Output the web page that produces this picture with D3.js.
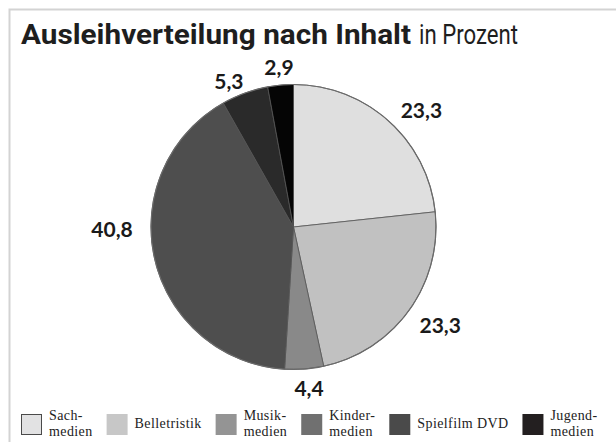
<!DOCTYPE html>
<html>
<head>
<meta charset="utf-8">
<script src="https://cdn.jsdelivr.net/npm/d3@7"></script>
<style>
  html, body { margin: 0; padding: 0; background: #fff; }
</style>
</head>
<body>
<div id="chart"></div>
<script>
// Daten
const categories = ["Sachmedien", "Belletristik", "Musikmedien", "Kindermedien", "Spielfilm DVD", "Jugendmedien"];
const values = [23.3, 23.3, 4.4, 40.8, 5.3, 2.9];
const legendLines = [["Sach-", "medien"], ["Belletristik"], ["Musik-", "medien"], ["Kinder-", "medien"], ["Spielfilm DVD"], ["Jugend-", "medien"]];

const pieColors = ["#dfdfdf", "#c1c1c1", "#898989", "#4e4e4e", "#2a2a2a", "#050505"];
const legendColors = ["#e2e2e3", "#c7c7c7", "#949494", "#707070", "#4a4a4a", "#231f20"];
// kleine Verschiebungen der Wertebeschriftungen (px)
const labelNudge = [[21, 3], [17, 5], [3.5, 2], [-25.5, -33.5], [-10, 5], [0, 0]];

const width = 616, height = 442;
const cx = 293.5, cy = 227, radius = 142.5;

const svg = d3.select("#chart").append("svg")
    .attr("width", width)
    .attr("height", height);

// Rahmen oben und links
svg.append("path")
    .attr("d", `M9.5,${height} L9.5,9.5 L${width},9.5`)
    .attr("fill", "none")
    .attr("stroke", "#d3d3d3")
    .attr("stroke-width", 2);

// Titel
svg.append("text")
    .attr("x", 21)
    .attr("y", 44)
    .attr("font-family", "Roboto, sans-serif")
    .attr("font-weight", 700)
    .attr("font-size", 27)
    .attr("fill", "#1e1e1e")
    .attr("textLength", 390)
    .attr("lengthAdjust", "spacingAndGlyphs")
    .text("Ausleihverteilung nach Inhalt");

svg.append("text")
    .attr("x", 419)
    .attr("y", 44)
    .attr("font-family", "Roboto, sans-serif")
    .attr("font-weight", 400)
    .attr("font-size", 27)
    .attr("fill", "#1e1e1e")
    .attr("textLength", 99)
    .attr("lengthAdjust", "spacingAndGlyphs")
    .text("in Prozent");

// Kreisdiagramm
const pie = d3.pie().sort(null).value(d => d);
const arcs = pie(values);
const arc = d3.arc().innerRadius(0).outerRadius(radius);
const labelArc = d3.arc().innerRadius(160).outerRadius(160);

const g = svg.append("g").attr("transform", `translate(${cx},${cy})`);

g.selectAll("path.slice")
    .data(arcs)
    .enter().append("path")
    .attr("class", "slice")
    .attr("d", arc)
    .attr("fill", (d, i) => pieColors[i])
    .attr("stroke", "#555")
    .attr("stroke-width", 0.8);

g.append("circle")
    .attr("r", radius)
    .attr("fill", "none")
    .attr("stroke", "#6a6a6a")
    .attr("stroke-width", 1.2);

const fmt = d3.formatLocale({ decimal: ",", thousands: ".", grouping: [3], currency: ["", " €"] }).format(".1f");

g.selectAll("text.val")
    .data(arcs)
    .enter().append("text")
    .attr("class", "val")
    .attr("x", (d, i) => labelArc.centroid(d)[0] + labelNudge[i][0])
    .attr("y", (d, i) => labelArc.centroid(d)[1] + labelNudge[i][1])
    .attr("dy", "0.35em")
    .attr("text-anchor", "middle")
    .attr("font-family", "Lato, sans-serif")
    .attr("font-weight", 700)
    .attr("font-size", 21)
    .attr("fill", "#1a1a1a")
    .text(d => fmt(d.data));

// Legende
const legend = svg.append("g");
let lx = 21;
categories.forEach((c, i) => {
    const item = legend.append("g");
    item.append("rect")
        .attr("x", lx + (i === 0 ? 0.5 : 0))
        .attr("y", 414 + (i === 0 ? 0.5 : 0))
        .attr("width", i === 0 ? 20 : 21)
        .attr("height", i === 0 ? 20 : 21)
        .attr("fill", legendColors[i])
        .attr("stroke", i === 0 ? "#4a4a4a" : "none")
        .attr("stroke-width", 1);

    const lines = legendLines[i];
    lines.forEach((ln, j) => {
        item.append("text")
            .attr("x", lx + 28)
            .attr("y", lines.length === 1 ? 428 : 420 + j * 15.5)
            .attr("font-family", "'Liberation Serif', serif")
            .attr("font-size", 14)
            .attr("letter-spacing", 0.4)
            .attr("fill", "#222")
            .text(ln);
    });
    const w = d3.max(item.selectAll("text").nodes(), n => n.getComputedTextLength());
    lx += 28 + w + 14;
});
</script>
</body>
</html>
